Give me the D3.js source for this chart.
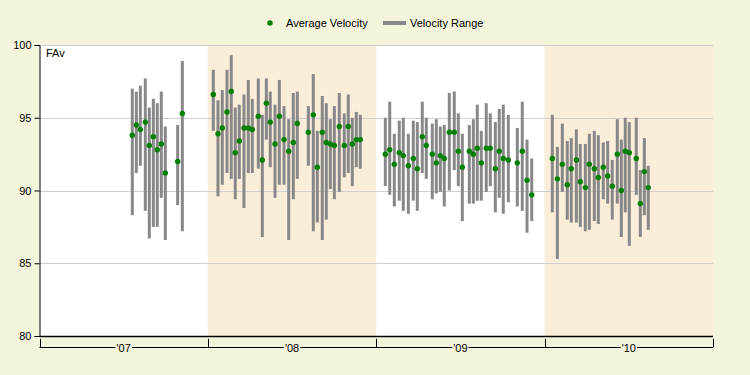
<!DOCTYPE html>
<html><head><meta charset="utf-8">
<script src="https://cdn.jsdelivr.net/npm/d3@7"></script>
<style>
html,body{margin:0;padding:0;background:#F4F4DC;}
svg{display:block;font-family:"Liberation Sans",Arial,sans-serif;}
</style></head>
<body><svg id="chart" width="750" height="375"></svg>
<script>
// ---- data ----
const seasons = ["'07", "'08", "'09", "'10"];
const seasonDays = 180;
const yTicks = [80, 85, 90, 95, 100];
const legendLabels = ["Average Velocity", "Velocity Range"];
const pitchLabel = "FAv";
// rows: [day in season, low, average, high]
const starts07 = [
 [99.2,88.3,93.8,97.0],[103.5,91.2,94.5,96.8],[107.8,91.7,94.2,97.2],[113.1,88.6,94.7,97.7],
 [117.4,86.7,93.1,95.7],[121.7,87.5,93.7,96.3],[125.9,87.5,92.8,96.0],[130.2,89.5,93.2,96.8],
 [134.5,86.6,91.2,94.4],[147.7,89.0,92.0,94.5],[152.7,87.2,95.3,98.9]];
const starts08 = [
 [5.8,94.1,96.6,98.3],[10.8,89.6,93.9,96.2],[15.4,90.4,94.3,96.9],[20.4,91.2,95.4,98.3],
 [25.0,90.8,96.8,99.3],[29.3,89.4,92.6,95.7],[33.6,90.8,93.4,95.9],[38.6,88.8,94.3,96.6],
 [43.2,91.2,94.3,97.6],[47.5,91.2,94.2,96.3],[53.9,91.5,95.1,97.7],[58.2,86.8,92.1,95.2],
 [62.5,93.5,96.0,97.7],[66.7,91.6,94.7,96.8],[71.8,89.5,93.2,95.9],[76.4,90.4,95.1,97.6],
 [81.4,90.4,93.5,95.8],[86.4,86.6,92.7,94.9],[91.3,89.4,93.3,96.7],[95.6,90.8,94.6,96.8],
 [107.4,91.7,94.0,95.8],[112.7,87.2,95.2,98.0],[117.0,87.8,91.6,94.1],[122.3,86.6,94.0,96.5],
 [126.6,88.0,93.3,96.0],[130.9,90.1,93.2,94.9],[135.2,89.4,93.1,95.8],[140.5,89.9,94.4,96.7],
 [145.8,90.9,93.1,95.3],[150.1,91.2,94.4,96.6],[154.4,90.3,93.2,95.0],[158.7,91.6,93.5,95.4],
 [163.0,91.5,93.5,95.2]];
const starts09 = [
 [9.7,90.3,92.5,95.0],[14.4,89.7,92.8,96.1],[19.3,88.9,91.8,93.9],[24.6,89.3,92.6,94.8],
 [28.9,88.6,92.4,95.0],[34.3,88.4,91.7,93.9],[39.6,89.3,92.2,94.8],[43.9,88.6,91.5,94.7],
 [49.2,91.2,93.7,96.1],[53.5,90.8,93.1,95.0],[59.9,89.4,92.5,94.6],[64.2,89.8,91.9,94.9],
 [68.5,89.9,92.4,94.4],[72.7,88.9,92.2,94.5],[78.1,90.0,94.0,96.7],[83.4,91.4,94.0,96.8],
 [87.7,90.3,92.7,95.3],[92.0,87.9,91.6,93.9],[99.5,89.1,92.7,94.5],[103.8,89.1,92.5,94.9],
 [108.0,89.3,92.9,95.9],[112.3,89.3,91.9,94.1],[117.6,89.9,92.9,96.0],[121.9,90.3,92.9,95.3],
 [127.3,88.5,91.5,94.7],[131.5,89.5,92.7,95.6],[135.8,88.4,92.2,95.9],[141.2,89.2,92.1,95.2],
 [150.8,88.9,91.9,94.3],[156.1,88.6,92.7,96.1],[161.2,87.1,90.7,93.5],[166.2,87.9,89.7,92.2]];
const starts10 = [
 [8.2,88.5,92.2,95.2],[13.6,85.3,90.8,93.0],[18.9,89.9,91.8,94.6],[24.2,88.0,90.4,93.4],
 [28.5,87.8,91.5,93.6],[33.9,87.8,92.1,94.2],[38.1,87.5,90.6,93.2],[43.5,87.2,90.2,93.2],
 [47.8,87.3,91.8,93.9],[53.1,87.9,91.5,94.1],[57.4,87.7,90.9,93.8],[62.7,89.4,91.6,93.3],
 [67.4,89.1,91.0,93.4],[72.3,88.0,90.3,92.1],[77.7,89.1,92.5,94.9],[82.0,86.8,90.0,93.5],
 [86.2,88.5,92.7,95.0],[90.5,86.2,92.6,94.7],[98.0,89.7,92.2,95.0],[102.3,86.8,89.1,91.4],
 [106.6,88.3,91.3,93.6],[110.8,87.3,90.2,91.7]];

// ---- build ----
const seasonStarts = [starts07, starts08, starts09, starts10];
const rows = [];
seasonStarts.forEach((arr, s) => arr.forEach(r => rows.push({x: s * seasonDays + r[0], lo: r[1], avg: r[2], hi: r[3]})));

const svg = d3.select("#chart");
const M = {left: 39.5, right: 713, top: 45, bottom: 336};
const x = d3.scaleLinear().domain([0, seasons.length * seasonDays]).range([M.left, M.right]);
const y = d3.scaleLinear().domain([80, 100]).range([M.bottom, M.top]);

// bands
svg.append("g").selectAll("rect").data(seasons).join("rect")
  .attr("x", (d, i) => x(i * seasonDays)).attr("y", M.top)
  .attr("width", (d, i) => x((i + 1) * seasonDays) - x(i * seasonDays))
  .attr("height", M.bottom - M.top)
  .attr("fill", (d, i) => i % 2 ? "#FAEDD9" : "#FFFFFF");

// gridlines
svg.append("g").selectAll("line").data(yTicks.filter(t => t > 80)).join("line")
  .attr("x1", M.left).attr("x2", M.right)
  .attr("y1", d => Math.round(y(d)) + 0.5).attr("y2", d => Math.round(y(d)) + 0.5)
  .attr("stroke", "#CFCFCF").attr("stroke-width", 1);

// ranges
svg.append("g").selectAll("line").data(rows).join("line")
  .attr("x1", d => x(d.x)).attr("x2", d => x(d.x))
  .attr("y1", d => y(d.hi)).attr("y2", d => y(d.lo))
  .attr("stroke", "#888888").attr("stroke-width", 3);

// averages
svg.append("g").selectAll("circle").data(rows).join("circle")
  .attr("cx", d => x(d.x)).attr("cy", d => y(d.avg)).attr("r", 2.7)
  .attr("fill", "#008000");

// left axis
const ya = svg.append("g").attr("transform", `translate(${M.left},0)`)
  .call(d3.axisLeft(y).tickValues(yTicks).tickSize(5).tickPadding(3).tickFormat(d3.format("d")));
ya.select(".domain").attr("stroke", "#000");
ya.selectAll(".tick line").attr("stroke", "#000");
ya.selectAll("text").attr("font-size", 11).attr("fill", "#000").attr("font-family", "Liberation Sans, Arial, sans-serif");

// bottom axis line
svg.append("line").attr("x1", M.left).attr("x2", M.right).attr("y1", M.bottom + 0.5).attr("y2", M.bottom + 0.5)
  .attr("stroke", "#000").attr("stroke-width", 1.5);

// season bracket
const by = 347.5;
const bg = svg.append("g");
d3.range(seasons.length + 1).forEach(i => {
  bg.append("line").attr("x1", Math.round(x(i * seasonDays)) + 0.5).attr("x2", Math.round(x(i * seasonDays)) + 0.5)
    .attr("y1", 339).attr("y2", by).attr("stroke", "#000");
});
seasons.forEach((s, i) => {
  const x0 = x(i * seasonDays), x1 = x((i + 1) * seasonDays), cx = (x0 + x1) / 2;
  const t = bg.append("text").attr("x", cx).attr("y", by + 4).attr("text-anchor", "middle")
    .attr("font-size", 11).attr("fill", "#000").text(s);
  const w = t.node().getComputedTextLength();
  bg.append("line").attr("x1", x0).attr("x2", cx - w / 2 - 1).attr("y1", by).attr("y2", by).attr("stroke", "#000");
  bg.append("line").attr("x1", cx + w / 2 + 1).attr("x2", x1).attr("y1", by).attr("y2", by).attr("stroke", "#000");
});

// pitch label
svg.append("text").attr("x", 46).attr("y", 57).attr("font-size", 11).attr("fill", "#000").text(pitchLabel);

// legend
const lg = svg.append("g");
lg.append("circle").attr("cx", 270).attr("cy", 23).attr("r", 2.7).attr("fill", "#008000");
lg.append("text").attr("x", 286).attr("y", 27).attr("font-size", 11).attr("fill", "#000").text(legendLabels[0]);
lg.append("line").attr("x1", 383).attr("x2", 406).attr("y1", 23).attr("y2", 23).attr("stroke", "#888888").attr("stroke-width", 4);
lg.append("text").attr("x", 410).attr("y", 27).attr("font-size", 11).attr("fill", "#000").text(legendLabels[1]);
</script></body></html>
